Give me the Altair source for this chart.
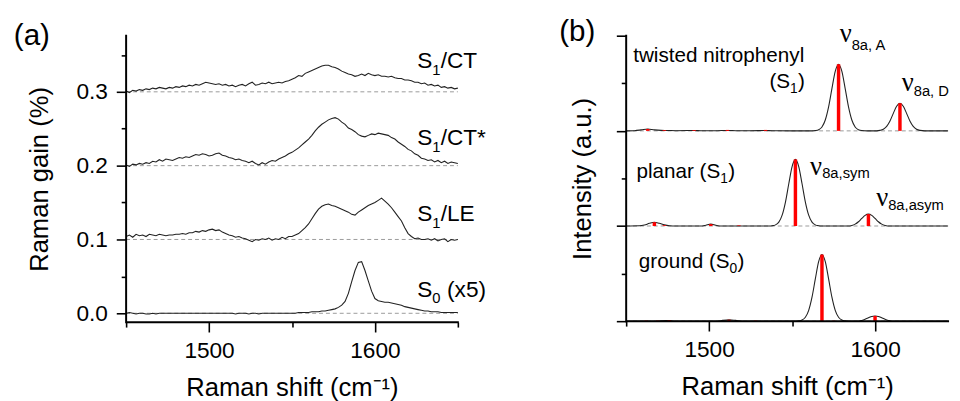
import altair as alt
import pandas as pd

SANS = "Liberation Sans"
SERIF = "Liberation Serif"
INK = "#222222"

# ---------------- panel (a): measured spectra (Raman gain, %) ----------------
shift_a = [1450 + 2 * i for i in range(101)]

s1_ct = [
    0.301, 0.299, 0.302, 0.301, 0.303, 0.302, 0.304, 0.303, 0.305, 0.304,
    0.306, 0.305, 0.304, 0.306, 0.305, 0.307, 0.306, 0.308, 0.307, 0.309,
    0.308, 0.310, 0.309, 0.311, 0.313, 0.312, 0.311, 0.310, 0.311, 0.309,
    0.310, 0.308, 0.309, 0.307, 0.309, 0.310, 0.308, 0.311, 0.313, 0.309,
    0.310, 0.312, 0.311, 0.313, 0.311, 0.312, 0.313, 0.312, 0.314, 0.315,
    0.317, 0.319, 0.322, 0.321, 0.325, 0.327, 0.329, 0.331, 0.333, 0.335,
    0.336, 0.336, 0.334, 0.333, 0.331, 0.328, 0.326, 0.324, 0.323, 0.321,
    0.322, 0.324, 0.322, 0.325, 0.323, 0.322, 0.323, 0.321, 0.321, 0.320,
    0.321, 0.319, 0.318, 0.318, 0.316, 0.316, 0.315, 0.313, 0.313, 0.311,
    0.312, 0.309, 0.310, 0.308, 0.309, 0.306, 0.307, 0.305, 0.306, 0.304,
    0.305,
]

s1_ct_star = [
    0.201, 0.199, 0.202, 0.201, 0.203, 0.202, 0.204, 0.203, 0.206, 0.205,
    0.208, 0.206, 0.209, 0.208, 0.207, 0.209, 0.211, 0.210, 0.212, 0.211,
    0.213, 0.215, 0.214, 0.216, 0.215, 0.213, 0.214, 0.216, 0.217, 0.214,
    0.213, 0.211, 0.210, 0.208, 0.209, 0.207, 0.206, 0.204, 0.206, 0.203,
    0.201, 0.204, 0.202, 0.205, 0.207, 0.206, 0.209, 0.211, 0.213, 0.216,
    0.218, 0.221, 0.224, 0.228, 0.232, 0.236, 0.241, 0.247, 0.252, 0.256,
    0.259, 0.262, 0.264, 0.265, 0.263, 0.259, 0.256, 0.251, 0.249, 0.246,
    0.242, 0.240, 0.239, 0.241, 0.243, 0.242, 0.244, 0.243, 0.242, 0.241,
    0.238, 0.236, 0.232, 0.229, 0.226, 0.222, 0.220, 0.216, 0.214, 0.210,
    0.209, 0.207, 0.208, 0.205, 0.207, 0.204, 0.206, 0.203, 0.205, 0.204,
    0.203,
]

s1_le = [
    0.104, 0.106, 0.103, 0.107, 0.105, 0.106, 0.104, 0.107, 0.106, 0.105,
    0.107, 0.106, 0.105, 0.106, 0.106, 0.107, 0.107, 0.108, 0.107, 0.109,
    0.109, 0.111, 0.110, 0.112, 0.111, 0.113, 0.114, 0.112, 0.113, 0.110,
    0.108, 0.106, 0.105, 0.103, 0.104, 0.102, 0.101, 0.099, 0.097, 0.100,
    0.099, 0.101, 0.100, 0.102, 0.099, 0.101, 0.100, 0.103, 0.101, 0.104,
    0.104, 0.106, 0.108, 0.112, 0.116, 0.121, 0.128, 0.135, 0.141, 0.145,
    0.147, 0.148, 0.146, 0.145, 0.143, 0.141, 0.139, 0.137, 0.134, 0.133,
    0.137, 0.140, 0.143, 0.146, 0.148, 0.150, 0.153, 0.156, 0.152, 0.148,
    0.143, 0.137, 0.131, 0.125, 0.116, 0.108, 0.104, 0.101, 0.102, 0.100,
    0.100, 0.101, 0.099, 0.101, 0.098, 0.100, 0.101, 0.097, 0.100, 0.099,
    0.100,
]

s0_x5 = [
    0.000, 0.001, 0.000, -0.001, 0.000, 0.000, -0.001, -0.001, 0.000, -0.001,
    0.000, 0.000, 0.000, 0.000, 0.000, 0.000, 0.000, 0.000, 0.000, 0.000,
    0.000, 0.000, 0.000, 0.000, 0.000, 0.000, 0.000, 0.000, 0.000, 0.000,
    0.000, 0.000, 0.000, -0.001, 0.000, 0.000, 0.000, -0.001, 0.000, 0.000,
    -0.001, 0.000, 0.000, 0.000, 0.000, 0.000, 0.000, 0.000, 0.000, 0.000,
    0.000, 0.000, 0.001, 0.001, 0.001, 0.001, 0.002, 0.002, 0.002, 0.003,
    0.003, 0.004, 0.005, 0.006, 0.008, 0.011, 0.016, 0.027, 0.043, 0.058,
    0.069, 0.070, 0.058, 0.044, 0.030, 0.020, 0.017, 0.016, 0.015, 0.015,
    0.014, 0.013, 0.012, 0.011, 0.009, 0.008, 0.007, 0.006, 0.005, 0.004,
    0.003, 0.003, 0.002, 0.002, 0.002, 0.001, 0.001, 0.001, 0.001, 0.001,
    0.001,
]

baselines_a = [0.0, 0.1, 0.2, 0.3]

# labels of panel (a): main part, subscript, tail
labels_a_main = [("S", 1634.6, 0.332), ("S", 1634.6, 0.228), ("S", 1634.6, 0.1253), ("S", 1634.6, 0.0227)]
labels_a_sub = [("1", 1634.6, 0.3227), ("1", 1634.6, 0.2187), ("1", 1634.6, 0.116), ("0", 1634.6, 0.0134)]
labels_a_tail = [("/CT", 1634.6, 0.332), ("/CT*", 1634.6, 0.228), ("/LE", 1634.6, 0.1253)]
labels_a_tail_wide = [("(x5)", 1634.6, 0.0227)]

# ---------------- panel (b): calculated spectra ----------------
twisted_env = [
    (1450, 0), (1455, 0.002), (1459, 0.010), (1463, 0.020), (1467, 0.010), (1471, 0.005),
    (1475, 0.004), (1480, 0.002), (1487, 0.003), (1491, 0.004), (1495, 0.001), (1505, 0.002),
    (1511, 0.004), (1516, 0.002), (1525, 0.001), (1534, 0.004), (1538, 0.001), (1550, 0),
    (1562, 0), (1564, 0.003), (1566, 0.012), (1568, 0.041), (1570, 0.114), (1572, 0.252),
    (1574, 0.444), (1576, 0.625), (1578, 0.700), (1580, 0.625), (1582, 0.444), (1584, 0.252),
    (1586, 0.114), (1588, 0.041), (1590, 0.012), (1592, 0.003), (1595, 0), (1601, 0),
    (1603, 0.005), (1605, 0.017), (1607, 0.047), (1609, 0.104), (1611, 0.184), (1613, 0.259),
    (1615, 0.290), (1617, 0.259), (1619, 0.184), (1621, 0.104), (1623, 0.047), (1625, 0.017),
    (1627, 0.005), (1630, 0), (1644, 0),
]
planar_env = [
    (1450, 0), (1458, 0.002), (1461, 0.010), (1464, 0.028), (1467, 0.040), (1470, 0.028),
    (1473, 0.012), (1476, 0.003), (1480, 0), (1496, 0), (1498, 0.008), (1501, 0.020),
    (1504, 0.008), (1507, 0), (1536, 0), (1538, 0.003), (1540, 0.012), (1542, 0.041),
    (1544, 0.114), (1546, 0.252), (1548, 0.444), (1550, 0.625), (1552, 0.700), (1554, 0.625),
    (1556, 0.444), (1558, 0.252), (1560, 0.114), (1562, 0.041), (1564, 0.012), (1566, 0.003),
    (1568, 0), (1584, 0), (1586, 0.006), (1588, 0.020), (1590, 0.045), (1592, 0.080),
    (1594, 0.112), (1596, 0.125), (1598, 0.112), (1600, 0.080), (1602, 0.045), (1604, 0.020),
    (1606, 0.006), (1609, 0), (1644, 0),
]
ground_env = [
    (1450, 0), (1468, 0), (1471, 0.003), (1474, 0.006), (1477, 0.003), (1480, 0),
    (1505, 0), (1508, 0.008), (1512, 0.014), (1516, 0.008), (1520, 0), (1552, 0),
    (1554, 0.003), (1556, 0.012), (1558, 0.041), (1560, 0.114), (1562, 0.252), (1564, 0.444),
    (1566, 0.625), (1568, 0.700), (1570, 0.625), (1572, 0.444), (1574, 0.252), (1576, 0.114),
    (1578, 0.041), (1580, 0.012), (1582, 0.003), (1584, 0), (1590, 0), (1592, 0.008),
    (1594, 0.020), (1596, 0.035), (1598, 0.050), (1600, 0.055), (1602, 0.050), (1604, 0.035),
    (1606, 0.020), (1608, 0.008), (1610, 0), (1644, 0),
]
twisted_sticks = [(1463, 0.020), (1473, 0.008), (1491, 0.008), (1511, 0.010), (1534, 0.010),
                  (1578, 0.700), (1615, 0.290)]
planar_sticks = [(1467, 0.040), (1473, 0.008), (1501, 0.020), (1518, 0.006),
                 (1552, 0.700), (1596, 0.125)]
ground_sticks = [(1462, 0.006), (1469, 0.006), (1476, 0.010), (1512, 0.015), (1528, 0.006),
                 (1575, 0.005), (1568, 0.700), (1600, 0.055)]
offsets_b = {"twisted": 2, "planar": 1, "ground": 0}
baselines_b = [0, 1, 2]

labels_b_plain = [("twisted nitrophenyl", 1454.2, 2.72)]
labels_b_pre = [("(S", 1548.8, 2.452), ("planar (S", 1506.7, 1.503), ("ground (S", 1512.3, 0.555)]
labels_b_sub = [("1", 1548.8, 2.40), ("1", 1506.7, 1.451), ("0", 1512.3, 0.504)]
labels_b_post = [(")", 1548.8, 2.452), (")", 1506.7, 1.503), (")", 1512.3, 0.555)]
labels_nu = [("\u03bd", 1585.9, 2.938), ("\u03bd", 1623.3, 2.421), ("\u03bd", 1568.1, 1.541), ("\u03bd", 1607.9, 1.210)]
labels_nu_sub = [("8a, A", 1585.9, 2.855), ("8a, D", 1623.3, 2.369), ("8a,sym", 1568.1, 1.50), ("8a,asym", 1607.9, 1.169)]

panel_tags = [("(a)", 1382.3, 0.364), ("(b)", 1409.6, 2.948)]

# axis ranges
xa_range = [1450, 1650]
ya_range = [-0.012, 0.376]
xb_range = [1450, 1644]
yb_range = [0, 3]

W_A, H_A = 337, 291
W_B, H_B = 327, 290


def tdf(rows):
    return pd.DataFrame([{"text": t, "x": x, "y": y} for t, x, y in rows])


# ---------------- scales & axes ----------------
major_x = "datum.value % 100 == 0"
xa_scale = alt.Scale(domain=xa_range, nice=False, zero=False)
ya_scale = alt.Scale(domain=ya_range, nice=False, zero=False)
xb_scale = alt.Scale(domain=xb_range, nice=False, zero=False)
yb_scale = alt.Scale(domain=yb_range, nice=False, zero=False)

axis_style = dict(domain=False, ticks=True, tickColor="black", tickWidth=1.6)

axis_x_common = dict(
    format="d",
    labelExpr=f"{major_x} ? datum.label : ''",
    tickSize={"condition": {"test": major_x, "value": 10}, "value": 5},
    title="Raman shift (cm\u207b\u00b9)",
    labelFontSize=23, titleFontSize=26, labelPadding=8, titlePadding=13,
    labelOverlap=False, **axis_style,
)
axis_xa = alt.Axis(values=[1450, 1500, 1550, 1600, 1650], **axis_x_common)
axis_xb = alt.Axis(values=[1450, 1500, 1550, 1600], **axis_x_common)

major_ya = "abs(datum.value * 10 - round(datum.value * 10)) < 0.001"
axis_ya = alt.Axis(
    values=[0, 0.05, 0.1, 0.15, 0.2, 0.25, 0.3, 0.35],
    labelExpr=f"{major_ya} ? format(datum.value, '.1f') : ''",
    tickSize={"condition": {"test": major_ya, "value": 10}, "value": 5},
    title="Raman gain (%)", labelFontSize=23, titleFontSize=26,
    labelPadding=9, titlePadding=24, labelOverlap=False, **axis_style,
)
axis_yb = alt.Axis(
    values=[0, 0.5, 1, 1.5, 2, 2.5, 3], labels=False,
    tickSize={"condition": {"test": "datum.value % 1 == 0", "value": 10}, "value": 5},
    title="Intensity (a.u.)", titleFontSize=26, titlePadding=20, **axis_style,
)

XA = alt.X("x:Q", scale=xa_scale, axis=axis_xa)
YA = alt.Y("y:Q", scale=ya_scale, axis=axis_ya)
XB = alt.X("x:Q", scale=xb_scale, axis=axis_xb)
YB = alt.Y("y:Q", scale=yb_scale, axis=axis_yb)


def frame(X, Y, xr, yr):
    """L-shaped axis line (left + bottom) drawn as a polyline through the scales."""
    df = pd.DataFrame({"x": [xr[0], xr[0], xr[1]], "y": [yr[1], yr[0], yr[0]], "o": [0, 1, 2]})
    return alt.Chart(df).mark_line(color="black", strokeWidth=2, strokeCap="square",
                                   strokeJoin="miter").encode(x=X, y=Y, order="o:Q")


# ---------------- panel (a) ----------------
rows = []
for name, vals in [("S1/CT", s1_ct), ("S1/CT*", s1_ct_star), ("S1/LE", s1_le), ("S0", s0_x5)]:
    for x, y in zip(shift_a, vals):
        rows.append({"x": x, "y": y, "series": name})
df_a = pd.DataFrame(rows)
df_base_a = pd.DataFrame({"y": baselines_a, "x": 1450, "x2": 1650})

base_a = alt.Chart(df_base_a).mark_rule(color="#9a9a9a", strokeDash=[4, 3], strokeWidth=1).encode(
    x=XA, x2="x2:Q", y=YA)
curves_a = alt.Chart(df_a).mark_line(color=INK, strokeWidth=1.1).encode(
    x=XA, y=YA, detail="series:N")
lab_a_main = alt.Chart(tdf(labels_a_main)).mark_text(
    font=SANS, fontSize=23, align="right", baseline="alphabetic", color="black").encode(
    x=XA, y=YA, text="text:N")
lab_a_sub = alt.Chart(tdf(labels_a_sub)).mark_text(
    font=SANS, fontSize=15, align="left", baseline="alphabetic", color="black").encode(
    x=XA, y=YA, text="text:N")
lab_a_tail = alt.Chart(tdf(labels_a_tail)).mark_text(
    font=SANS, fontSize=23, align="left", baseline="alphabetic", dx=8.5, color="black").encode(
    x=XA, y=YA, text="text:N")
lab_a_tail_wide = alt.Chart(tdf(labels_a_tail_wide)).mark_text(
    font=SANS, fontSize=23, align="left", baseline="alphabetic", dx=15, color="black").encode(
    x=XA, y=YA, text="text:N")
tag_a = alt.Chart(tdf(panel_tags[:1])).mark_text(
    font=SANS, fontSize=30, align="left", baseline="alphabetic", color="black").encode(
    x=XA, y=YA, text="text:N")

panel_a = alt.layer(base_a, curves_a, lab_a_main, lab_a_sub, lab_a_tail, lab_a_tail_wide,
                    tag_a, frame(XA, YA, xa_range, ya_range)).properties(width=W_A, height=H_A)

# ---------------- panel (b) ----------------
env_rows, stick_rows = [], []
for name, env, sticks in [("twisted", twisted_env, twisted_sticks),
                          ("planar", planar_env, planar_sticks),
                          ("ground", ground_env, ground_sticks)]:
    off = offsets_b[name]
    for x, y in env:
        env_rows.append({"x": x, "y": off + y, "series": name})
    for x, h in sticks:
        stick_rows.append({"x": x, "y": off, "y2": off + h, "series": name})
df_env = pd.DataFrame(env_rows)
df_sticks = pd.DataFrame(stick_rows)
df_base_b = pd.DataFrame({"y": baselines_b, "x": 1450, "x2": 1644})

base_b = alt.Chart(df_base_b).mark_rule(color="#9a9a9a", strokeDash=[4, 3], strokeWidth=1).encode(
    x=XB, x2="x2:Q", y=YB)
sticks_b = alt.Chart(df_sticks).mark_rule(color="#ff0000", strokeWidth=3.5).encode(
    x=XB, y=YB, y2="y2:Q")
env_b = alt.Chart(df_env).mark_line(color=INK, strokeWidth=1.1, interpolate="monotone").encode(
    x=XB, y=YB, detail="series:N")
lab_b_plain = alt.Chart(tdf(labels_b_plain)).mark_text(
    font=SANS, fontSize=21, align="left", baseline="alphabetic", color="black").encode(
    x=XB, y=YB, text="text:N")
lab_b_pre = alt.Chart(tdf(labels_b_pre)).mark_text(
    font=SANS, fontSize=21, align="right", baseline="alphabetic", color="black").encode(
    x=XB, y=YB, text="text:N")
lab_b_sub = alt.Chart(tdf(labels_b_sub)).mark_text(
    font=SANS, fontSize=14, align="left", baseline="alphabetic", color="black").encode(
    x=XB, y=YB, text="text:N")
lab_b_post = alt.Chart(tdf(labels_b_post)).mark_text(
    font=SANS, fontSize=21, align="left", baseline="alphabetic", dx=8, color="black").encode(
    x=XB, y=YB, text="text:N")
lab_nu = alt.Chart(tdf(labels_nu)).mark_text(
    font=SERIF, fontSize=27, align="right", baseline="alphabetic", color="black").encode(
    x=XB, y=YB, text="text:N")
lab_nu_sub = alt.Chart(tdf(labels_nu_sub)).mark_text(
    font=SANS, fontSize=15, align="left", baseline="alphabetic", color="black").encode(
    x=XB, y=YB, text="text:N")
tag_b = alt.Chart(tdf(panel_tags[1:])).mark_text(
    font=SANS, fontSize=30, align="left", baseline="alphabetic", color="black").encode(
    x=XB, y=YB, text="text:N")

panel_b = alt.layer(base_b, env_b, sticks_b, lab_b_plain, lab_b_pre, lab_b_sub, lab_b_post,
                    lab_nu, lab_nu_sub, tag_b, frame(XB, YB, xb_range, yb_range)).properties(
    width=W_B, height=H_B)

chart = alt.hconcat(panel_a, panel_b, spacing=171, bounds="flush").properties(
    padding={"left": 5, "top": 6, "right": 0, "bottom": 0}
).configure_view(stroke=None).configure_axis(
    labelColor="black", titleColor="black", labelFont=SANS, titleFont=SANS,
    titleFontWeight="normal", grid=False,
)

chart.save("out.html", embed_options={"renderer": "svg", "actions": False})
